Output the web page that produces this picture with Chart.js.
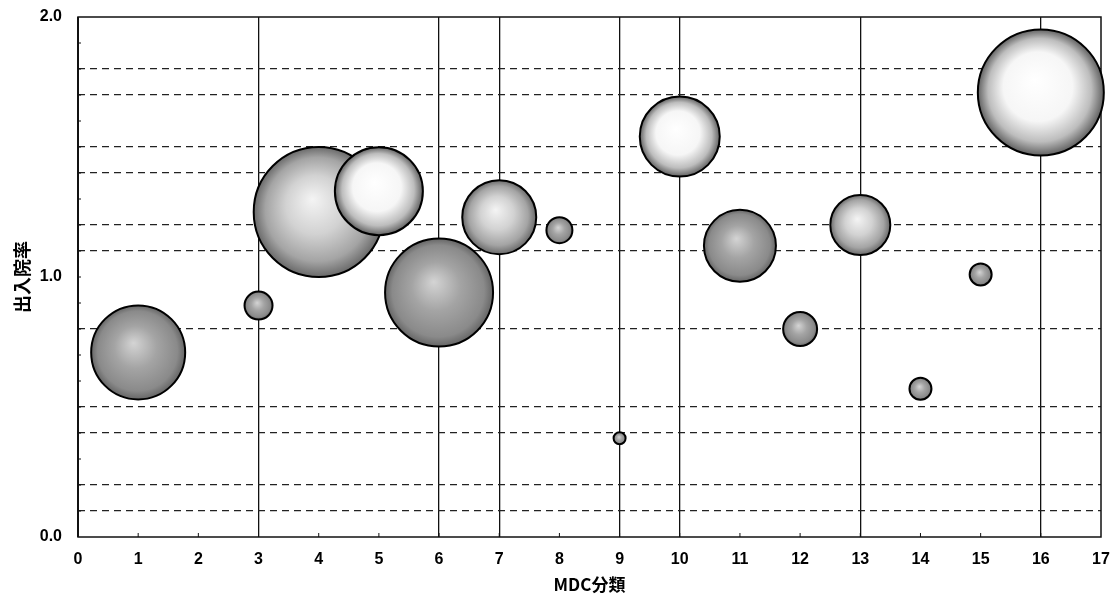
<!DOCTYPE html>
<html>
<head>
<meta charset="utf-8">
<script src="https://cdn.jsdelivr.net/npm/chart.js@4.4.1/dist/chart.umd.min.js"></script>
<style>
  html, body { margin: 0; padding: 0; background: #fff; }
  #wrap { width: 1111px; height: 596px; position: relative; }
</style>
</head>
<body>
<div id="wrap"><canvas id="chart"></canvas></div>
<script>
// MDC分類ごとの出入院率（バブルの大きさ＝症例規模）
const mdcCodes   = [1, 3, 4, 5, 6, 7, 8, 9, 10, 11, 12, 13, 14, 15, 16];
const ratioValues = [0.71, 0.89, 1.25, 1.33, 0.94, 1.23, 1.18, 0.38, 1.54, 1.12, 0.80, 1.20, 0.57, 1.01, 1.71];
const bubbleSizes = [47, 14, 65, 44, 54, 37, 13, 6, 40, 36, 17, 30, 11, 11, 63];

const xTicksShown = [0, 17];           // x axis range
const yTickLabels = [0.0, 1.0, 2.0];   // labelled y ticks

// grid lines that appear in the picture
const solidXLines = [3, 6, 7, 9, 10, 13, 16];
const dashedYLines = [1, 2, 4, 5, 8, 11, 12, 14, 15, 17, 18]; // tenths

// shading per bubble: 0 light, 1 medium, 2 dark
const BUBBLE_TONES = [2, 2, 1, 0, 2, 1, 2, 2, 0, 2, 2, 1, 2, 2, 0];
const TONE_STOPS = [
  [[0, '#ffffff'], [0.55, '#f6f6f6'], [0.82, '#bdbdbd'], [1, '#626262']],
  [[0, '#f4f4f4'], [0.45, '#d2d2d2'], [0.8, '#a4a4a4'], [1, '#6a6a6a']],
  [[0, '#d4d4d4'], [0.45, '#a4a4a4'], [0.85, '#8a8a8a'], [1, '#666666']]
];

const points = mdcCodes.map((m, i) => ({ x: m, y: ratioValues[i], r: bubbleSizes[i] }));

function bubbleFill(ctx) {
  const chart = ctx.chart;
  const sx = chart.scales.x, sy = chart.scales.y;
  if (!ctx.raw || !sx || !sy) return '#aaa';
  const cx = sx.getPixelForValue(ctx.raw.x);
  const cy = sy.getPixelForValue(ctx.raw.y);
  const r = ctx.raw.r;
  if (!isFinite(cx) || !isFinite(cy)) return '#aaa';
  const g = chart.ctx.createRadialGradient(cx - r * 0.1, cy - r * 0.2, 0, cx, cy, r);
  TONE_STOPS[BUBBLE_TONES[ctx.dataIndex]].forEach(s => g.addColorStop(s[0], s[1]));
  return g;
}

const framePlugin = {
  id: 'frame',
  beforeDatasetsDraw(chart) {
    const { ctx, chartArea: a, scales } = chart;
    ctx.save();
    ctx.strokeStyle = '#111';
    ctx.lineWidth = 1.5;
    ctx.strokeRect(a.left, a.top, a.right - a.left, a.bottom - a.top);
    ctx.lineWidth = 2;
    ctx.beginPath();
    ctx.moveTo(a.left, a.top); ctx.lineTo(a.left, a.bottom);
    ctx.stroke();
    // small inward tick marks
    ctx.lineWidth = 1;
    ctx.beginPath();
    for (let v = 1; v < 17; v++) {
      const px = scales.x.getPixelForValue(v);
      ctx.moveTo(px, a.bottom); ctx.lineTo(px, a.bottom - 4);
    }
    for (let t = 1; t < 20; t++) {
      const py = scales.y.getPixelForValue(t / 10);
      ctx.moveTo(a.left, py); ctx.lineTo(a.left + 3, py);
    }
    ctx.stroke();
    ctx.restore();
  }
};

new Chart(document.getElementById('chart'), {
  type: 'bubble',
  data: {
    datasets: [{
      data: points,
      backgroundColor: bubbleFill,
      borderColor: '#000',
      borderWidth: 2,
      hoverBorderWidth: 2,
      clip: 10
    }]
  },
  options: {
    responsive: true, maintainAspectRatio: false, animation: false,
    layout: { autoPadding: false, padding: { top: 17, right: 10, bottom: 0, left: 0 } },
    plugins: { legend: { display: false }, tooltip: { enabled: false } },
    scales: {
      x: {
        type: 'linear', min: xTicksShown[0], max: xTicksShown[1],
        afterFit: s => { s.height = 59; s.paddingLeft = 0; s.paddingRight = 0; },
        ticks: { stepSize: 1, autoSkip: false, maxRotation: 0, padding: 13, color: '#000',
                 font: { family: 'Liberation Sans', size: 16, weight: 'bold' } },
        grid: { drawTicks: false, lineWidth: 1.3,
                color: c => solidXLines.includes(c.tick && c.tick.value) ? '#111' : 'transparent' },
        border: { display: false },
        title: { display: true, text: 'MDC分類', color: '#000', padding: { top: 0, bottom: 1 },
                 font: { family: 'Noto Sans CJK JP', size: 17, weight: 'bold' } }
      },
      y: {
        type: 'linear', min: 0, max: 2,
        afterFit: s => { s.width = 78; s.paddingTop = 0; s.paddingBottom = 0; },
        ticks: { stepSize: 0.1, autoSkip: false, padding: 16, color: '#000',
                 font: { family: 'Liberation Sans', size: 16, weight: 'bold' },
                 callback: v => yTickLabels.some(t => Math.abs(t - v) < 1e-6) ? v.toFixed(1) : '' },
        grid: { drawTicks: false, lineWidth: 1.2,
                color: c => c.tick && dashedYLines.includes(Math.round(c.tick.value * 10)) ? '#222' : 'transparent' },
        border: { display: false, dash: [7, 5] },
        title: { display: true, text: '出入院率', color: '#000', padding: { top: 11, bottom: 0 },
                 font: { family: 'Noto Sans CJK JP', size: 18, weight: 'bold' } }
      }
    }
  },
  plugins: [framePlugin]
});
</script>
</body>
</html>
